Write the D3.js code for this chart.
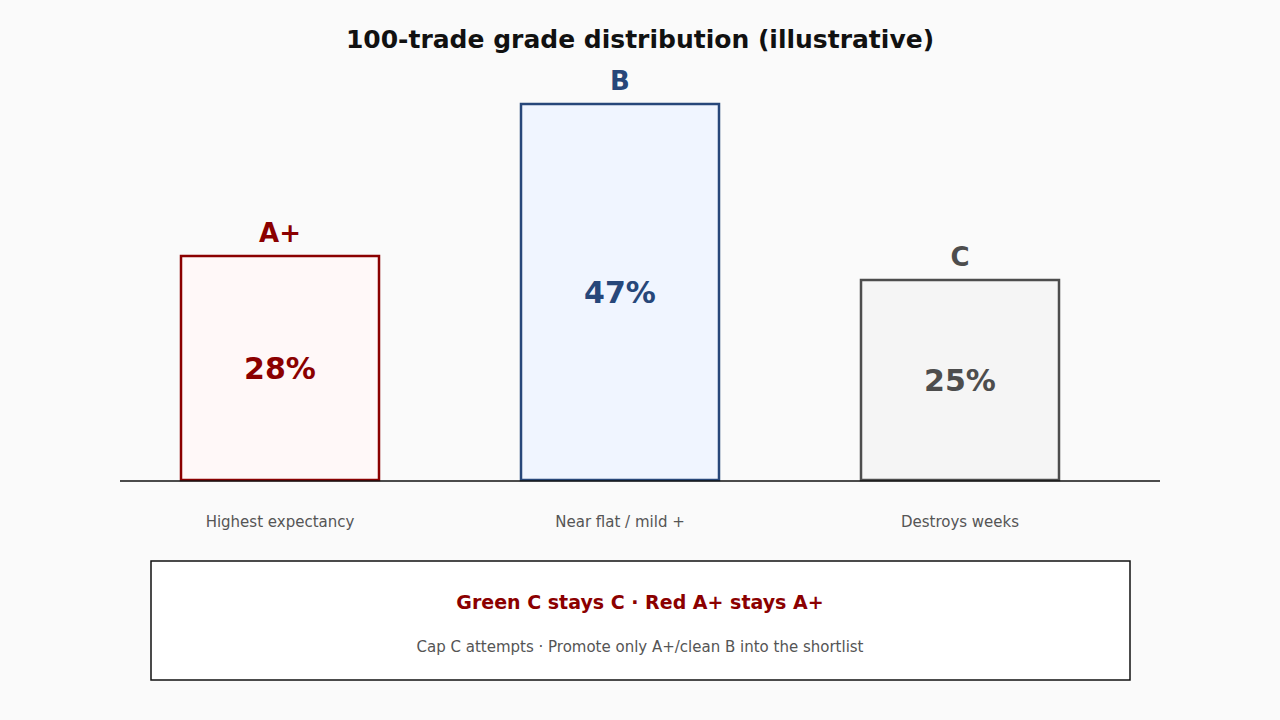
<!DOCTYPE html>
<html>
<head>
<script src="https://d3js.org/d3.v7.min.js"></script>
<style>
  body { margin: 0; background: #fafafa; font-family: "DejaVu Sans", sans-serif; }
</style>
</head>
<body>
<script>
// chart data
const grades = ["A+", "B", "C"];
const shares = [28, 47, 25];
const notes = ["Highest expectancy", "Near flat / mild +", "Destroys weeks"];
const strokes = ["#8b0000", "#27477a", "#4d4d4d"];
const fills = ["#fff8f8", "#f0f5ff", "#f5f5f5"];

const width = 1280, height = 720;
const svg = d3.select("body").append("svg")
    .attr("width", width).attr("height", height);
svg.append("rect").attr("width", width).attr("height", height).attr("fill", "#fafafa");

svg.append("text").attr("x", 640).attr("y", 48).attr("text-anchor", "middle")
    .attr("font-size", 25).attr("font-weight", "bold").attr("fill", "#111")
    .text("100-trade grade distribution (illustrative)");

const x = d3.scalePoint().domain(grades).range([280, 960]);
const y = d3.scaleLinear().domain([0, 50]).range([480, 80]);
const barW = 198;

const g = svg.selectAll("g.bar").data(grades).enter().append("g");

g.append("rect")
    .attr("x", d => x(d) - barW / 2)
    .attr("y", (d, i) => y(shares[i]))
    .attr("width", barW)
    .attr("height", (d, i) => y(0) - y(shares[i]))
    .attr("fill", (d, i) => fills[i])
    .attr("stroke", (d, i) => strokes[i])
    .attr("stroke-width", 2.5);

g.append("text")
    .attr("x", d => x(d))
    .attr("y", (d, i) => y(shares[i]) - 14)
    .attr("text-anchor", "middle").attr("font-size", 26).attr("font-weight", "bold")
    .attr("fill", (d, i) => strokes[i])
    .text(d => d);

g.append("text")
    .attr("x", d => x(d))
    .attr("y", (d, i) => (y(shares[i]) + y(0)) / 2 + 11)
    .attr("text-anchor", "middle").attr("font-size", 30).attr("font-weight", "bold")
    .attr("fill", (d, i) => strokes[i])
    .text((d, i) => shares[i] + "%");

g.append("text")
    .attr("x", d => x(d))
    .attr("y", 527)
    .attr("text-anchor", "middle").attr("font-size", 15).attr("fill", "#555")
    .text((d, i) => notes[i]);

svg.append("line").attr("x1", 120).attr("x2", 1160)
    .attr("y1", 481).attr("y2", 481).attr("stroke", "#111").attr("stroke-width", 1.5);

svg.append("rect").attr("x", 151).attr("y", 561).attr("width", 979).attr("height", 119)
    .attr("fill", "#fff").attr("stroke", "#111").attr("stroke-width", 1.5);
svg.append("text").attr("x", 640).attr("y", 609).attr("text-anchor", "middle")
    .attr("font-size", 19).attr("font-weight", "bold").attr("fill", "#8b0000")
    .text("Green C stays C · Red A+ stays A+");
svg.append("text").attr("x", 640).attr("y", 652).attr("text-anchor", "middle")
    .attr("font-size", 15).attr("fill", "#555")
    .text("Cap C attempts · Promote only A+/clean B into the shortlist");
</script>
</body>
</html>
